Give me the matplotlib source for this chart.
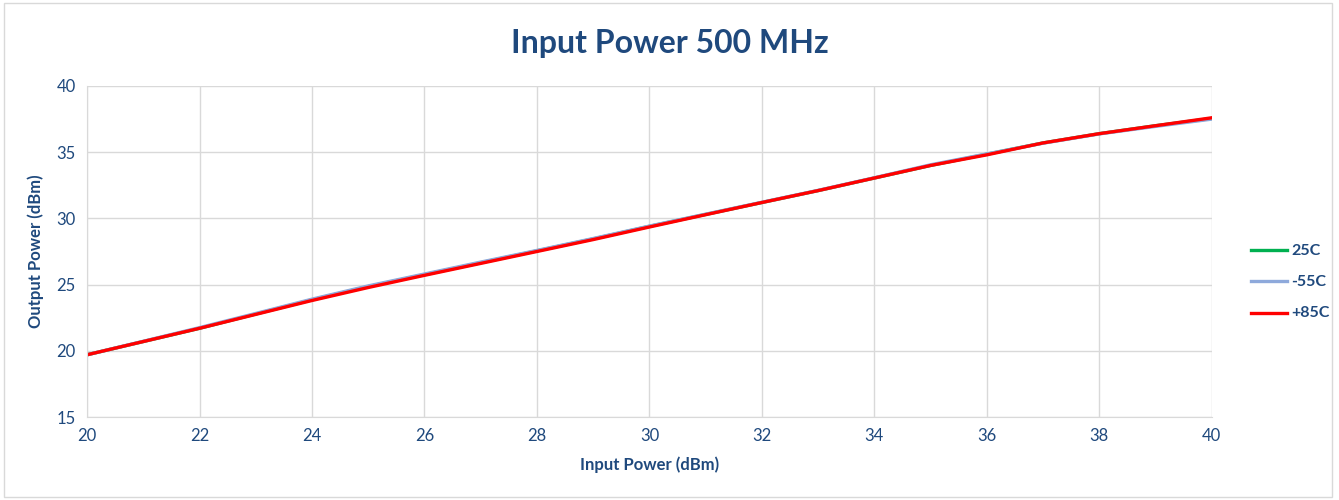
import matplotlib.pyplot as plt
from matplotlib.patches import Rectangle

# Input power sweep (dBm)
input_dbm = [20, 21, 22, 23, 24, 25, 26, 27, 28, 29, 30, 31, 32, 33, 34, 35, 36, 37, 38, 39, 40]

# Output power (dBm) per temperature
out_25c = [19.7, 20.7, 21.7, 22.78, 23.85, 24.85, 25.75, 26.65, 27.55, 28.45, 29.4,
           30.3, 31.2, 32.1, 33.05, 34.0, 34.85, 35.7, 36.4, 37.0, 37.55]
out_m55c = [19.7, 20.72, 21.75, 22.82, 23.9, 24.9, 25.8, 26.7, 27.58, 28.48, 29.42,
            30.32, 31.22, 32.12, 33.07, 34.05, 34.87, 35.68, 36.38, 36.95, 37.5]
out_p85c = [19.7, 20.7, 21.7, 22.75, 23.8, 24.78, 25.7, 26.6, 27.5, 28.4, 29.35,
            30.28, 31.2, 32.1, 33.05, 34.0, 34.8, 35.7, 36.4, 37.0, 37.6]

series = [
    ("25C", out_25c, "#00B050"),
    ("-55C", out_m55c, "#8EA9DB"),
    ("+85C", out_p85c, "#FF0000"),
]

TEXT = "#1F497D"

plt.rcParams.update({"font.family": ["Lato", "DejaVu Sans"]})

fig = plt.figure(figsize=(13.39, 5.0), dpi=100)
fig.patches.append(Rectangle((0.003, 0.006), 0.992, 0.988, transform=fig.transFigure,
                             fill=False, edgecolor="#D9D9D9", linewidth=1.0))
ax = fig.add_axes([0.065, 0.166, 0.840, 0.662])

for name, vals, color in series:
    ax.plot(input_dbm, vals, color=color, lw=2.4, label=name)

ax.set_xlim(20, 40)
ax.set_ylim(15, 40)
ax.set_xticks(range(20, 41, 2))
ax.set_yticks(range(15, 41, 5))
ax.grid(True, color="#D9D9D9", linewidth=1.0)
ax.set_axisbelow(True)
for side in ["top", "right"]:
    ax.spines[side].set_visible(False)
for side in ["left", "bottom"]:
    ax.spines[side].set_color("#D9D9D9")
ax.tick_params(length=0, colors=TEXT, labelsize=12, pad=8)

ax.set_xlabel("Input Power (dBm)", color=TEXT, fontsize=12, fontweight="bold", labelpad=9)
ax.set_ylabel("Output Power (dBm)", color=TEXT, fontsize=12, fontweight="bold", labelpad=9)
fig.text(0.5, 0.914, "Input Power 500 MHz", ha="center", va="center",
         color=TEXT, fontsize=23, fontweight="bold")

leg = fig.legend(loc="center left", bbox_to_anchor=(0.925, 0.436), frameon=False,
                 handlelength=2.6, labelspacing=1.25, handletextpad=0.3)
for t in leg.get_texts():
    t.set_color(TEXT)
    t.set_fontweight("bold")
    t.set_fontsize(11.5)

fig.savefig("out.png", dpi=100, facecolor="white")
